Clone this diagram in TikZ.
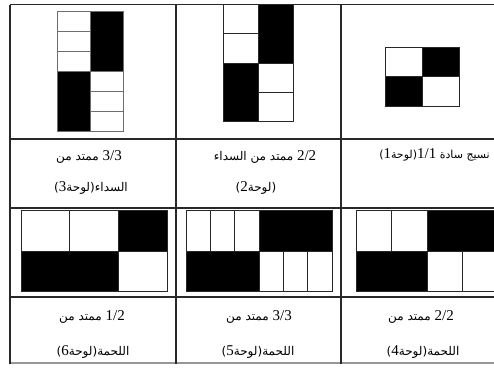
\documentclass[tikz,border=0pt]{standalone}
\usepackage{fontspec}
\newfontfamily\arabicfont[Script=Arabic]{DejaVu Sans}
\newfontfamily\numfont{Liberation Serif}
\TeXXeTstate=1
\usetikzlibrary{positioning}
\definecolor{gridline}{RGB}{40, 40, 40}
\definecolor{faintline}{RGB}{150, 150, 150}
\definecolor{softline}{RGB}{110, 110, 110}
\newcommand{\nm}[1]{{\numfont\fontsize{15}{15}\selectfont\beginL #1\endL}}

\begin{document}
\begin{tikzpicture}[x=1pt, y=-1pt,
  tabline/.style={draw=gridline, line width=1.1pt},
  wcell/.style={draw=gridline, fill=white, line width=0.8pt},
  bcell/.style={draw=gridline, fill=black, line width=0.8pt},
  lbl/.style={font=\arabicfont\fontsize{12}{14}\selectfont, inner sep=0pt}]
  \useasboundingbox (0,0) rectangle (494,367);
  \clip (0,0) rectangle (494,367);

  % table grid
  \draw[tabline] (10,4.5) -- (494,4.5);
  \foreach \y in {139,208,297}
    \draw[tabline] (10,\y) -- (494,\y);
  \draw[draw=faintline, line width=1.1pt] (10,363) -- (494,363);
  \foreach \x in {10,176,341}
    \draw[tabline] (\x,4.5) -- (\x,364);

  % plate 3: 3/3 warp rib
  \foreach \y in {11,31,51}
    \draw[wcell, draw=softline] (57,\y) rectangle (90,\y+20);
  \draw[bcell, draw=softline] (90,11) rectangle (123,71);
  \draw[bcell, draw=softline] (57,71) rectangle (90,131);
  \foreach \y in {71,91,111}
    \draw[wcell, draw=softline] (90,\y) rectangle (123,\y+20);

  % plate 2: 2/2 warp rib
  \foreach \y in {4,33.5}
    \draw[wcell] (223,\y) rectangle (258,\y+29.5);
  \draw[bcell] (258,4) rectangle (293,63);
  \draw[bcell] (223,63) rectangle (258,121);
  \foreach \y in {63,92}
    \draw[wcell] (258,\y) rectangle (293,\y+29);

  % plate 1: plain weave
  \draw[wcell] (385,47) rectangle (422,76);
  \draw[bcell] (422,47) rectangle (459,76);
  \draw[bcell] (385,76) rectangle (422,106);
  \draw[wcell] (422,76) rectangle (459,106);

  % plate 6: 1/2 weft rib
  \draw[wcell] (21,210) rectangle (69.7,251);
  \draw[wcell] (69.7,210) rectangle (118.3,251);
  \draw[bcell] (118.3,210) rectangle (167,251);
  \draw[bcell] (21,251) rectangle (118.3,291);
  \draw[wcell] (118.3,251) rectangle (167,291);

  % plate 5: 3/3 weft rib
  \foreach \k in {0,1,2}
    \draw[wcell] (186+\k*24.33,210) rectangle (210.33+\k*24.33,251);
  \draw[bcell] (259,210) rectangle (332,251);
  \draw[bcell] (186,251) rectangle (259,291);
  \foreach \k in {3,4,5}
    \draw[wcell] (186+\k*24.33,251) rectangle (210.33+\k*24.33,291);

  % plate 4: 2/2 weft rib
  \foreach \k in {0,1}
    \draw[wcell] (356+\k*35.5,210) rectangle (391.5+\k*35.5,251);
  \draw[bcell] (427,210) rectangle (498,251);
  \draw[bcell] (356,251) rectangle (427,291);
  \foreach \k in {2,3}
    \draw[wcell] (356+\k*35.5,251) rectangle (391.5+\k*35.5,291);

  % labels
  \node[lbl] (lab3a) at (89,157) {\beginR\nm{3/3} ممتد من\endR};
  \node[lbl] (lab3b) at (91,188) {\beginR السداء(لوحة\nm{3})\endR};
  \node[lbl] (lab2a) at (265,157) {\beginR\nm{2/2} ممتد من السداء\endR};
  \node[lbl] (lab2b) at (256,188) {\beginR (لوحة\nm{2})\endR};
  \node[lbl, font=\arabicfont\fontsize{11}{13}\selectfont, anchor=east] (lab1) at (490,155) {\beginR نسيج سادة \nm{1/1}(لوحة\nm{1})\endR};
  \node[lbl] (lab6a) at (92,317) {\beginR\nm{1/2} ممتد من\endR};
  \node[lbl] (lab6b) at (93,352) {\beginR اللحمة(لوحة\nm{6})\endR};
  \node[lbl] (lab5a) at (259,317) {\beginR\nm{3/3} ممتد من\endR};
  \node[lbl] (lab5b) at (258,352) {\beginR اللحمة(لوحة\nm{5})\endR};
  \node[lbl] (lab4a) at (421,317) {\beginR\nm{2/2} ممتد من\endR};
  \node[lbl] (lab4b) at (423,352) {\beginR اللحمة(لوحة\nm{4})\endR};
\end{tikzpicture}
\end{document}
